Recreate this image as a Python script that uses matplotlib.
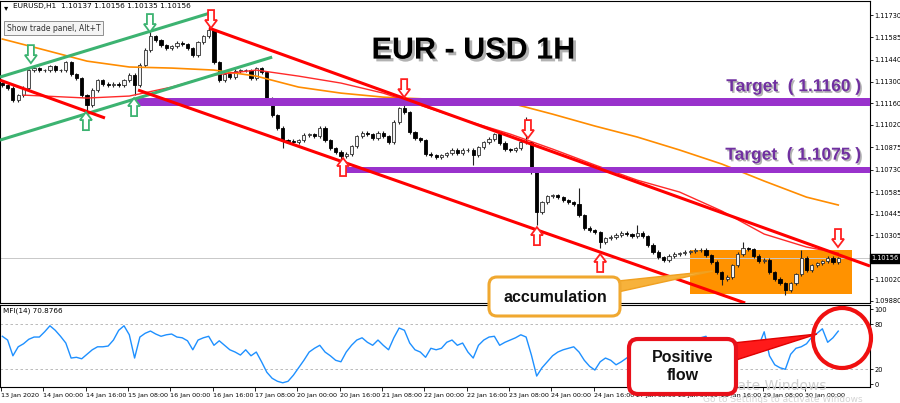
import matplotlib
matplotlib.use("Agg")
import matplotlib.pyplot as plt
import matplotlib.patheffects as pe
import matplotlib.transforms as mtransforms
from matplotlib.patches import Polygon, FancyBboxPatch, Ellipse, Rectangle
import numpy as np

# ---------------- data (2-hour candles) ----------------
header_text = "EURUSD,H1  1.10137 1.10156 1.10135 1.10156"
first_open = 1.11290
close = [1.11277, 1.11258, 1.11180, 1.11212, 1.11258, 1.11374, 1.11387, 1.11374, 1.11374, 1.11400,
         1.11374, 1.11374, 1.11426, 1.11348, 1.11322, 1.11212, 1.11148, 1.11245, 1.11309, 1.11284,
         1.11277, 1.11284, 1.11277, 1.11309, 1.11342, 1.11277, 1.11407, 1.11504, 1.11594, 1.11568,
         1.11536, 1.11516, 1.11529, 1.11549, 1.11542, 1.11516, 1.11471, 1.11555, 1.11594, 1.11633,
         1.11426, 1.11309, 1.11348, 1.11329, 1.11368, 1.11374, 1.11374, 1.11322, 1.11387, 1.11361,
         1.11193, 1.11083, 1.10999, 1.10921, 1.10915, 1.10908, 1.10921, 1.10954, 1.10960, 1.10947,
         1.10999, 1.10921, 1.10869, 1.10844, 1.10818, 1.10831, 1.10882, 1.10947, 1.10967, 1.10960,
         1.10934, 1.10967, 1.10947, 1.10908, 1.11038, 1.11128, 1.11102, 1.10973, 1.10934, 1.10921,
         1.10831, 1.10824, 1.10811, 1.10824, 1.10837, 1.10857, 1.10837, 1.10857, 1.10857, 1.10824,
         1.10876, 1.10908, 1.10928, 1.10960, 1.10902, 1.10863, 1.10857, 1.10869, 1.10908, 1.10908,
         1.10714, 1.10455, 1.10520, 1.10559, 1.10565, 1.10552, 1.10533, 1.10520, 1.10507, 1.10436,
         1.10352, 1.10339, 1.10326, 1.10261, 1.10287, 1.10294, 1.10307, 1.10320, 1.10313, 1.10300,
         1.10320, 1.10300, 1.10242, 1.10197, 1.10164, 1.10145, 1.10171, 1.10184, 1.10190, 1.10197,
         1.10203, 1.10210, 1.10210, 1.10177, 1.10132, 1.10067, 1.10022, 1.10035, 1.10112, 1.10184,
         1.10222, 1.10216, 1.10171, 1.10138, 1.10145, 1.10067, 1.10022, 1.09996, 1.09951, 1.09996,
         1.10054, 1.10158, 1.10080, 1.10112, 1.10125, 1.10138, 1.10158, 1.10132, 1.10156]
wick = 0.00010
spike_high = {28: 1.11633, 39: 1.11665, 76: 1.11180, 99: 1.11070, 109: 1.10611,
              120: 1.10371, 140: 1.10261, 151: 1.10210}
spike_low = {16: 1.11102, 25: 1.11212, 53: 1.10869, 64: 1.10779, 89: 1.10760,
             101: 1.10371, 113: 1.10222, 136: 1.09983, 148: 1.09919}

mfi = [64, 59, 38, 50, 54, 60, 63, 63, 70, 78, 72, 64, 55, 35, 36, 34, 40, 46, 50, 50,
       51, 59, 72, 78, 66, 35, 63, 68, 71, 67, 64, 66, 67, 63, 62, 58, 46, 59, 62, 64,
       52, 58, 52, 46, 43, 39, 46, 38, 43, 30, 16, 8, 4, 2, 4, 12, 22, 32, 43, 48,
       52, 43, 38, 32, 30, 43, 52, 59, 62, 56, 52, 59, 52, 46, 62, 75, 72, 55, 46, 43,
       36, 48, 46, 48, 56, 59, 52, 55, 43, 35, 52, 59, 63, 64, 52, 56, 59, 62, 66, 63,
       39, 11, 22, 30, 38, 43, 46, 48, 50, 43, 32, 24, 19, 30, 35, 32, 26, 30, 35, 39,
       46, 43, 35, 28, 24, 30, 38, 43, 46, 48, 52, 56, 62, 64, 48, 32, 24, 35, 46, 52,
       42, 43, 40, 52, 70, 38, 26, 22, 20, 40, 48, 50, 54, 63, 68, 74, 56, 62, 70.8766]

ma_slow_idx = [0, 8, 16, 24, 32, 40, 48, 56, 64, 72, 80, 88, 96, 104, 112, 120, 128, 136, 144, 152, 158]
ma_slow = [1.11575, 1.11504, 1.11432, 1.11394, 1.11387, 1.11374, 1.11335, 1.11264, 1.11225, 1.11199,
           1.11187, 1.11174, 1.11161, 1.11089, 1.11012, 1.10941, 1.10857, 1.10766, 1.10656, 1.10552, 1.10501]
ma_fast_idx = [4, 8, 16, 24, 32, 40, 48, 56, 64, 72, 80, 88, 96, 104, 112, 120, 128, 136, 144, 152, 158]
ma_fast = [1.11212, 1.11206, 1.11193, 1.11206, 1.11264, 1.11342, 1.11374, 1.11335, 1.11290, 1.11225,
           1.11135, 1.11044, 1.10960, 1.10863, 1.10760, 1.10662, 1.10585, 1.10462, 1.10313, 1.10229, 1.10190]

price_ticks = [1.11730, 1.11585, 1.11440, 1.11300, 1.11160, 1.11020, 1.10875, 1.10730,
               1.10585, 1.10445, 1.10305, 1.10020, 1.09880]
last_price = 1.10156
mfi_ticks = [0, 20, 80, 100]
time_labels = ["13 Jan 2020", "14 Jan 00:00", "14 Jan 16:00", "15 Jan 08:00", "16 Jan 00:00",
               "16 Jan 16:00", "17 Jan 08:00", "20 Jan 00:00", "20 Jan 16:00", "21 Jan 08:00",
               "22 Jan 00:00", "22 Jan 16:00", "23 Jan 08:00", "24 Jan 00:00", "24 Jan 16:00",
               "27 Jan 08:00", "28 Jan 00:00", "28 Jan 16:00", "29 Jan 08:00", "30 Jan 00:00"]

# drawing objects in (hour index, price)
green_lines = [((-0.38, 1.11329), (79.0, 1.11743)), ((-0.38, 1.10921), (102.5, 1.11458))]
red_lines = [((-0.38, 1.11309), (39.3, 1.11064)), ((78.6, 1.11646), (328.5, 1.10106)),
             ((51.8, 1.11245), (281.3, 1.09867))]
target_bands = [(49.5, 1.11141, 1.11193), (129.3, 1.10708, 1.10750)]
target_labels = ["Target  ( 1.1160 )", "Target  ( 1.1075 )"]
accum_box = (260.5, 321.7, 1.09925, 1.10210)
arrows_green = [(11.3, 1.11419, 'down'), (32.1, 1.11102, 'up'), (50.3, 1.11193, 'up'), (56.3, 1.11620, 'down')]
arrows_red = [(79.4, 1.11646, 'down'), (129.3, 1.10805, 'up'), (152.4, 1.11199, 'down'),
              (199.2, 1.10934, 'down'), (202.6, 1.10358, 'up'), (226.5, 1.10184, 'up'),
              (316.4, 1.10229, 'down')]

# ---------------- figure ----------------
W, H = 900, 403
fig = plt.figure(figsize=(9.0, 4.03), dpi=100)
fig.patch.set_facecolor('white')

def rect(x0, y0, x1, y1):
    return [x0 / W, 1 - y1 / H, (x1 - x0) / W, (y1 - y0) / H]

ax = fig.add_axes(rect(0, 1, 870, 303))
ax2 = fig.add_axes(rect(0, 305, 870, 387))
XL = (-0.38, 328.5)
small = dict(family='DejaVu Sans')

n = len(close)
c = np.array(close)
o = np.array([first_open] + close[:-1])
hi = np.maximum(o, c) + wick
lo = np.minimum(o, c) - wick
for k, v in spike_high.items():
    hi[k] = v
for k, v in spike_low.items():
    lo[k] = v
hx = 2 * np.arange(n) + 0.5
up = c >= o

# orange accumulation zone (background)
ax.add_patch(Rectangle((accum_box[0], accum_box[2]), accum_box[1] - accum_box[0],
                       accum_box[3] - accum_box[2], facecolor='#FF9200', edgecolor='none', zorder=1))
ax.axhline(last_price, color='#C8C8C8', lw=0.7, zorder=1.2)

ax.vlines(hx, lo, hi, color='#202020', lw=0.8, zorder=2)
bb = np.minimum(o, c)
bh = np.maximum(np.abs(c - o), 0.00002)
ax.bar(hx[up], bh[up], bottom=bb[up], width=1.2, color='#F2F2F2', edgecolor='#303030', linewidth=0.6, zorder=2.5)
ax.bar(hx[~up], bh[~up], bottom=bb[~up], width=1.2, color='black', edgecolor='black', linewidth=0.6, zorder=2.5)

ax.plot(2 * np.array(ma_slow_idx) + 0.5, ma_slow, color='#FF8C00', lw=1.2, zorder=3)
ax.plot(2 * np.array(ma_fast_idx) + 0.5, ma_fast, color='#FF2A2A', lw=1.0, zorder=3)

for (p0, p1) in green_lines:
    ax.plot([p0[0], p1[0]], [p0[1], p1[1]], color='#3CB371', lw=2.2, zorder=3.5, solid_capstyle='butt')
for (p0, p1) in red_lines:
    ax.plot([p0[0], p1[0]], [p0[1], p1[1]], color='#FF0000', lw=2.2, zorder=3.5, solid_capstyle='butt')
for (x0, y0, y1) in target_bands:
    ax.add_patch(Rectangle((x0, y0), XL[1] - x0, y1 - y0, facecolor='#9932CC', edgecolor='none', zorder=3.2))

shadow = [pe.withSimplePatchShadow(offset=(1.2, -1.2), shadow_rgbFace='black', alpha=0.3)]
for (x0, y0, y1), lab in zip(target_bands, target_labels):
    ax.text(325.5, y1 + 0.00025, lab, ha='right', va='bottom', fontsize=12.5, fontweight='bold',
            color='#7030A0', family='Liberation Sans', path_effects=shadow, zorder=6)

ax.text(178.5, 1.11500, "EUR - USD 1H", ha='center', va='center', fontsize=22, fontweight='bold',
        color='black', family='Liberation Sans',
        path_effects=[pe.withSimplePatchShadow(offset=(2, -2), shadow_rgbFace='black', alpha=0.3)], zorder=6)

def block_arrow(axis, hpos, price, direction, color):
    wh, ws, hl, tl = 6.0, 3.0, 8.0, 18.0
    s = 1 if direction == 'down' else -1
    verts = [(0, 0), (wh, s * hl), (ws, s * hl), (ws, s * tl), (-ws, s * tl), (-ws, s * hl), (-wh, s * hl)]
    verts = [(vx / 100.0, vy / 100.0) for vx, vy in verts]
    tr = fig.dpi_scale_trans + mtransforms.ScaledTranslation(hpos, price, axis.transData)
    axis.add_patch(Polygon(verts, closed=True, transform=tr, facecolor='white', edgecolor=color,
                           lw=1.3, zorder=5, clip_on=False))

for hp, pr, d in arrows_green:
    block_arrow(ax, hp, pr, d, '#3CB371')
for hp, pr, d in arrows_red:
    block_arrow(ax, hp, pr, d, '#FF2020')

ax.set_xlim(*XL)
ax.set_ylim(1.09867, 1.11821)
ax.set_xticks([])
ax.yaxis.tick_right()
ax.set_yticks(price_ticks)
ax.set_yticklabels([f"{v:.5f}" for v in price_ticks], **small)
ax.tick_params(axis='y', labelsize=4.8, length=2, width=0.6, pad=1)
for s in ax.spines.values():
    s.set_color('black'); s.set_linewidth(0.8)
ax.text(1.002, last_price, f"{last_price:.5f}", transform=mtransforms.blended_transform_factory(ax.transAxes, ax.transData),
        ha='left', va='center', fontsize=4.8, color='white',
        bbox=dict(boxstyle='square,pad=0.2', facecolor='black', edgecolor='black'), zorder=7, clip_on=False, **small)

ax.text(0.004, 0.993, "\u25BE", transform=ax.transAxes, fontsize=6, va='top', ha='left')
ax.text(0.015, 0.993, header_text, transform=ax.transAxes, fontsize=5.3, va='top', ha='left', color='black', **small)
ax.text(0.008, 0.925, "Show trade panel, Alt+T", transform=ax.transAxes, fontsize=5.5, va='top', ha='left',
        color='#303030', bbox=dict(boxstyle='square,pad=0.35', facecolor='#F4F4F4', edgecolor='#808080', lw=0.6),
        zorder=7, **small)

# MFI panel
ax2.plot(hx, mfi, color='#1E90FF', lw=1.0, zorder=3)
for lvl in (20, 80):
    ax2.axhline(lvl, color='#B0B0B0', lw=0.6, ls=(0, (3, 3)), zorder=1)
ax2.set_xlim(*XL)
ax2.set_ylim(-3.6, 105.7)
ax2.yaxis.tick_right()
ax2.set_yticks(mfi_ticks)
ax2.set_yticklabels([str(v) for v in mfi_ticks], **small)
ax2.tick_params(axis='y', labelsize=4.8, length=2, width=0.6, pad=1)
ax2.set_xticks([16 * i for i in range(len(time_labels))])
ax2.set_xticklabels(time_labels, **small)
ax2.tick_params(axis='x', labelsize=4.6, length=3, width=0.6, pad=1.5)
for lab in ax2.get_xticklabels():
    lab.set_ha('left')
for s in ax2.spines.values():
    s.set_color('black'); s.set_linewidth(0.8)
ax2.text(0.004, 0.97, f"MFI(14) {mfi[-1]:.4f}", transform=ax2.transAxes, fontsize=5.2, va='top', ha='left', **small)

# ---------------- overlay annotations (pixel space) ----------------
ov = fig.add_axes([0, 0, 1, 1], zorder=10)
ov.set_xlim(0, W); ov.set_ylim(H, 0); ov.axis('off'); ov.patch.set_alpha(0)

ov.text(703, 386, "Activate Windows", fontsize=10, color='#CFCFCF', ha='left', va='center', zorder=1)
ov.text(703, 399, "Go to Settings to activate Windows", fontsize=6.5, color='#D4D4D4', ha='left', va='center', zorder=1)

# accumulation callout
ov.add_patch(Polygon([(618, 281), (618, 292), (713, 271)], closed=True, facecolor='#F7B23B',
                     edgecolor='#F0A020', lw=1.0, zorder=2))
ov.add_patch(FancyBboxPatch((489, 277), 131, 39, boxstyle='round,pad=0,rounding_size=8',
                            facecolor='white', edgecolor='#F0A830', lw=2.2, zorder=3))
ov.text(555, 297, "accumulation", ha='center', va='center', fontsize=11.5, fontweight='bold',
        family='Liberation Sans', color='#111111', zorder=4)

# positive flow callout
ov.add_patch(Polygon([(733, 343), (733, 361), (817, 334)], closed=True, facecolor='#FF1A1A',
                     edgecolor='#E00000', lw=1.0, zorder=2))
ov.add_patch(FancyBboxPatch((629, 339), 107, 55, boxstyle='round,pad=0,rounding_size=9',
                            facecolor='white', edgecolor='#E8101A', lw=3.0, zorder=3))
ov.text(683, 366, "Positive\nflow", ha='center', va='center', fontsize=11.5, fontweight='bold',
        family='Liberation Sans', color='#111111', linespacing=1.25, zorder=4)

ov.add_patch(Ellipse((842, 338), 58, 60, facecolor='none', edgecolor='#F01010', lw=3.0, zorder=5))

fig.savefig("out.png", dpi=100, facecolor='white')
